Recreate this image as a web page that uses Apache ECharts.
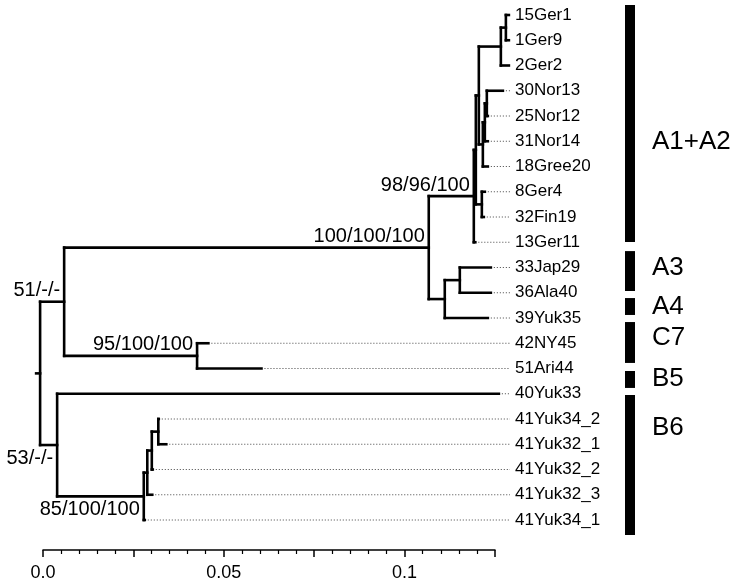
<!DOCTYPE html>
<html>
<head>
<meta charset="utf-8">
<script src="https://cdn.jsdelivr.net/npm/echarts@6/dist/echarts.min.js"></script>
<style>
html,body{margin:0;padding:0;background:#fff;}
#chart{width:732px;height:588px;}
</style>
</head>
<body>
<div id="chart"></div>
<script>
// ---------------- DATA ----------------
const tipLabels = ['15Ger1','1Ger9','2Ger2','30Nor13','25Nor12','31Nor14','18Gree20','8Ger4','32Fin19','13Ger11',
  '33Jap29','36Ala40','39Yuk35','42NY45','51Ari44','40Yuk33','41Yuk34_2','41Yuk32_1','41Yuk32_2','41Yuk32_3','41Yuk34_1'];

const internalNodes = ['root','AC','A','N1','N2','N3','G1','G2','X','Y','Z','FG','A34','A3','C7','B','b1','b2','b3','b4'];
const internalChildren = [
  ['AC','B'],
  ['A','C7'],
  ['N1','A34'],
  ['N2','13Ger11'],
  ['N3','FG'],
  ['G1','X'],
  ['G2','2Ger2'],
  ['15Ger1','1Ger9'],
  ['Y','18Gree20'],
  ['Z','31Nor14'],
  ['30Nor13','25Nor12'],
  ['8Ger4','32Fin19'],
  ['A3','39Yuk35'],
  ['33Jap29','36Ala40'],
  ['42NY45','51Ari44'],
  ['40Yuk33','b1'],
  ['b2','41Yuk34_1'],
  ['b3','41Yuk32_3'],
  ['b4','41Yuk32_2'],
  ['41Yuk34_2','41Yuk32_1']
];
const childLengths = [
  [0.00665, 0.00471],
  [0.10083, 0.03676],
  [0.01246, 0.00443],
  [0.00056, 0.00042],
  [0.00083, 0.00166],
  [0.00609, 0.00111],
  [0.00139, 0.00222],
  [0.00083, 0.00083],
  [0.00055, 0.00138],
  [0.00055, 0.00083],
  [0.00444, 0.00028],
  [0.00083, 0.00055],
  [0.00416, 0.01191],
  [0.00858, 0.00858],
  [0.00313, 0.01781],
  [0.12216, 0.02396],
  [0.00097, 0.00028],
  [0.00125, 0.00138],
  [0.00180, 0.00027],
  [0.00013, 0.00221]
];
const rootStart = -0.0019;
const rootLength = 0.0011;

const supportNodes  = ['AC','B','A','N1','C7','b1'];
const supportValues = ['51/-/-','53/-/-','100/100/100','98/96/100','95/100/100','85/100/100'];
const supportSide   = ['above','below','above','above','above','below'];

const groupNames   = ['A1+A2','A3','A4','C7','B5','B6'];
const groupBarFrom = [-0.40, 9.35, 11.21, 12.16, 14.10, 15.05];
const groupBarTo   = [8.99, 10.93, 11.88, 13.78, 14.77, 20.59];
const groupLabelAt = [5.03, 10.00, 11.56, 12.77, 14.42, 16.36];

const scaleMin = 0, scaleMax = 0.125, scaleStep = 0.025;
const scaleLabelValues = [0, 0.05, 0.1];
const scaleLabelTexts  = ['0.0', '0.05', '0.1'];

// ---------------- LAYOUT ----------------
const childMap = {}, lenMap = {};
internalNodes.forEach((n, i) => { childMap[n] = internalChildren[i]; lenMap[n] = childLengths[i]; });
const X = {}, Y = {};
tipLabels.forEach((t, i) => { Y[t] = i; });
function place(node, x) {
  X[node] = x;
  const ch = childMap[node];
  if (!ch) return Y[node];
  const ys = ch.map((c, k) => place(c, x + lenMap[node][k]));
  Y[node] = (Math.min(...ys) + Math.max(...ys)) / 2;
  return Y[node];
}
place('root', rootStart + rootLength);

const segments = [[rootStart, Y.root, X.root, Y.root]];
internalNodes.forEach(n => {
  const ch = childMap[n];
  const ys = ch.map(c => Y[c]);
  segments.push([X[n], Math.min(...ys), X[n], Math.max(...ys)]);
  ch.forEach(c => segments.push([X[n], Y[c], X[c], Y[c]]));
});
const tipData = tipLabels.map((t, i) => [X[t], Y[t], t]);
const supportData = supportNodes.map((n, i) => [X[n], Y[n], supportValues[i], supportSide[i]]);
const groupData = groupNames.map((g, i) => [groupBarFrom[i], groupBarTo[i], groupLabelAt[i], g]);

// ---------------- CHART ----------------
const FONT = 'Liberation Sans, Arial, Helvetica, sans-serif';
const chart = echarts.init(document.getElementById('chart'), null, {renderer: 'canvas'});

function rightEdge(api) { return api.coord([scaleMax, 0])[0]; }

const option = {
  animation: false,
  backgroundColor: '#fff',
  grid: {left: 43, top: 15, width: 452, height: 505},
  xAxis: {
    type: 'value', min: scaleMin, max: scaleMax, interval: scaleStep, offset: 30, position: 'bottom',
    axisLine: {show: true, onZero: false, lineStyle: {color: '#000', width: 1.5}},
    axisTick: {show: true, length: 7, lineStyle: {color: '#000', width: 1.5}},
    minorTick: {show: true, splitNumber: 5, length: 4, lineStyle: {color: '#000', width: 1.2}},
    splitLine: {show: false},
    axisLabel: {
      color: '#000', fontSize: 18, fontFamily: FONT, margin: 14,
      formatter: v => {
        const k = scaleLabelValues.findIndex(s => Math.abs(s - v) < 1e-9);
        return k >= 0 ? scaleLabelTexts[k] : '';
      }
    }
  },
  yAxis: {type: 'value', min: 0, max: 20, inverse: true, show: false},
  series: [
    {
      type: 'custom', clip: false, silent: true,
      data: segments,
      renderItem: (params, api) => {
        const p1 = api.coord([api.value(0), api.value(1)]);
        const p2 = api.coord([api.value(2), api.value(3)]);
        return {type: 'line', shape: {x1: p1[0], y1: p1[1], x2: p2[0], y2: p2[1]},
          style: {stroke: '#000', lineWidth: 2.6, lineCap: 'square'}};
      }
    },
    {
      type: 'custom', clip: false, silent: true,
      data: tipData,
      renderItem: (params, api) => {
        const p = api.coord([api.value(0), api.value(1)]);
        const re = rightEdge(api);
        const children = [];
        if (re + 15 - p[0] > 4) {
          children.push({type: 'line', shape: {x1: p[0] + 3, y1: p[1], x2: re + 15, y2: p[1]},
            style: {stroke: '#444', lineWidth: 1, lineDash: [1, 2]}});
        }
        children.push({type: 'text', style: {x: re + 20, y: p[1], text: api.value(2),
          fill: '#000', font: '17px ' + FONT, textAlign: 'left', textVerticalAlign: 'middle'}});
        return {type: 'group', children};
      }
    },
    {
      type: 'custom', clip: false, silent: true,
      data: supportData,
      renderItem: (params, api) => {
        const p = api.coord([api.value(0), api.value(1)]);
        const above = api.value(3) === 'above';
        return {type: 'text', style: {x: p[0] - 4, y: above ? p[1] - 1 : p[1] + 3, text: api.value(2),
          fill: '#000', font: '20px ' + FONT, textAlign: 'right', textVerticalAlign: above ? 'bottom' : 'top'}};
      }
    },
    {
      type: 'custom', clip: false, silent: true,
      data: groupData,
      renderItem: (params, api) => {
        const re = rightEdge(api);
        const y1 = api.coord([0, api.value(0)])[1];
        const y2 = api.coord([0, api.value(1)])[1];
        const yl = api.coord([0, api.value(2)])[1];
        return {type: 'group', children: [
          {type: 'rect', shape: {x: re + 130, y: y1, width: 10, height: y2 - y1}, style: {fill: '#000'}},
          {type: 'text', style: {x: re + 157, y: yl, text: api.value(3), fill: '#000',
            font: '26px ' + FONT, textAlign: 'left', textVerticalAlign: 'middle'}}
        ]};
      }
    }
  ]
};
chart.setOption(option);
</script>
</body>
</html>
